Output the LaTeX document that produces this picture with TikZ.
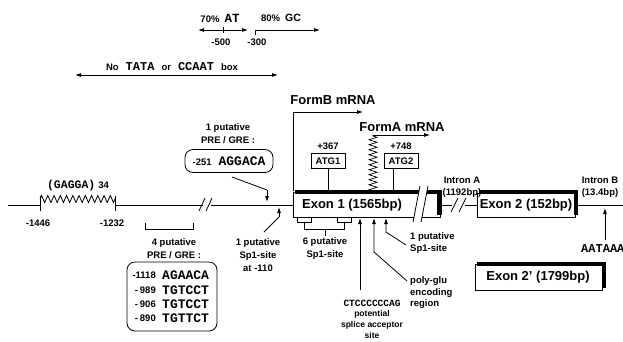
\documentclass[tikz,border=0pt]{standalone}
\usepackage{fontspec}
\setmainfont{Liberation Sans}
\newfontfamily\seqf{Liberation Mono}
\usetikzlibrary{arrows.meta,decorations.pathmorphing}
\newcommand{\seqtxt}[2][13]{{\seqf\bfseries\fontsize{#1}{#1}\selectfont #2}}
\tikzset{
  lab/.style={font=\bfseries\fontsize{9.5}{13}\selectfont, inner sep=0pt, align=center},
  labl/.style={font=\bfseries\fontsize{9.5}{11.5}\selectfont, inner sep=0pt, align=left, anchor=west},
  small/.style={font=\bfseries\fontsize{8.5}{10}\selectfont, inner sep=0pt, align=center},
  big/.style={font=\bfseries\fontsize{13}{14}\selectfont, inner sep=0pt},
  ln/.style={line width=0.8pt},
  arr/.style={ln,-{Latex[length=6pt,width=4pt]}},
  darr/.style={ln,{Latex[length=6pt,width=4pt]}-{Latex[length=6pt,width=4pt]}},
  seqbox/.style={draw, line width=0.8pt, rounded corners=8pt, inner sep=0pt},
  atg/.style={draw, line width=0.8pt, font=\bfseries\fontsize{9.5}{10}\selectfont, minimum width=34pt, minimum height=15pt, inner sep=0pt},
  zzR/.style={ln, decorate, decoration={zigzag, amplitude=3.5pt, segment length=6.25pt}},
  zzA/.style={line width=0.7pt, decorate, decoration={zigzag, amplitude=4pt, segment length=5pt}},
}
\begin{document}
\begin{tikzpicture}[x=1pt,y=-1pt]
\path[use as bounding box] (0,0) rectangle (623,341);

% ---- top region
\node[lab] (at70) at (220,18) {70\%\hspace{5pt}\seqtxt[12.5]{AT}};
\node[lab] (gc80) at (281,18) {80\%\hspace{5pt}{\fontsize{10.5}{11}\selectfont GC}};
\coordinate (atL) at (198,30); \coordinate (atR) at (248,30);
\draw[darr] (atL) -- (atR);
\coordinate (t5a) at (223,27); \coordinate (t5b) at (223,33);
\draw[ln] (t5a) -- (t5b);
\node[lab] (m500) at (221,42) {-500};
\node[lab] (m300) at (257,42) {-300};
\coordinate (gcS) at (255,35); \coordinate (gcC) at (255,30); \coordinate (gcE) at (320,30);
\draw[arr] (gcS) -- (gcC) -- (gcE);

\node[lab] (tata) at (172,67) {No\hspace{7pt}\seqtxt[12]{TATA}\hspace{7pt}or\hspace{7pt}\seqtxt[12]{CCAAT}\hspace{7pt}box};
\coordinate (tL) at (75,75); \coordinate (tR) at (278,75);
\draw[darr] (tL) -- (tR);

% ---- mRNA forms
\node[big] (formB) at (333,100) {FormB mRNA};
\coordinate (fbS) at (293,191); \coordinate (fbC) at (293,112); \coordinate (fbE) at (363,112);
\draw[arr] (fbS) -- (fbC) -- (fbE);
\node[big] (formA) at (402,127) {FormA mRNA};
\coordinate (faS) at (373,191); \coordinate (faC) at (373,135); \coordinate (faE) at (430,135);
\draw[zzA] (faS) -- (faC);
\draw[arr] (faC) -- (faE);

% ---- PRE/GRE -251
\node[lab] (pre1) at (228,134) {1 putative\\PRE / GRE :};
\node[seqbox, lab, minimum width=88pt, minimum height=23pt] (b251) at (229,161) {-251\hspace{7pt}\seqtxt{AGGACA}};
\coordinate (d1) at (232,177); \coordinate (d2) at (267,190); \coordinate (d3) at (267,202);
\draw[ln] (d1) -- (d2);
\draw[arr] (d2) -- (d3);

% ---- ATG
\node[lab] (p367) at (328,146) {+367};
\node[atg] (atg1) at (328,161) {ATG1};
\coordinate (atg1b) at (328,191);
\draw[ln] (atg1) -- (atg1b);
\node[lab] (p748) at (401,146) {+748};
\node[atg] (atg2) at (401,161) {ATG2};
\coordinate (atg2t) at (393,168.5); \coordinate (atg2b) at (393,191);
\draw[ln] (atg2t) -- (atg2b);

% ---- main line left
\coordinate (L0) at (8,205); \coordinate (z1) at (40,205);
\draw[ln] (L0) -- (z1);
\coordinate (k1a) at (40,196); \coordinate (k1b) at (40,211);
\coordinate (k2a) at (115,196); \coordinate (k2b) at (115,211);
\draw[ln] (k1a) -- (k1b); \draw[ln] (k2a) -- (k2b);
\coordinate (zS) at (40,199); \coordinate (zE) at (115,199);
\draw[zzR] (zS) -- (zE);
\coordinate (z2) at (115,205); \coordinate (br1) at (203,205);
\draw[ln] (z2) -- (br1);
\coordinate (sa1) at (199,211); \coordinate (sa2) at (205,198);
\coordinate (sb1) at (206,211); \coordinate (sb2) at (212,198);
\draw[ln] (sa1) -- (sa2); \draw[ln] (sb1) -- (sb2);
\coordinate (br2) at (211,205); \coordinate (ex1L) at (293,205);
\draw[ln] (br2) -- (ex1L);

\node[lab] (gagga) at (78,186) {\seqtxt[11.5]{(GAGGA)}\hspace{3pt}34};
\node[lab] (m1446) at (38,223) {-1446};
\node[lab] (m1232) at (112,223) {-1232};

% bracket for 4 PRE
\coordinate (q1) at (145,223); \coordinate (q2) at (145,229);
\coordinate (q3) at (193,229); \coordinate (q4) at (193,223);
\draw[ln] (q1) -- (q2) -- (q3) -- (q4);
\node[lab] (pre4) at (174,248.5) {4 putative\\PRE / GRE :};
\node[seqbox, minimum width=90pt, minimum height=69pt] (pbox) at (172,296.5) {};
\node[lab, anchor=east] (n1) at (156,275) {-1118};
\node[lab, anchor=east] (n2) at (156,290) {-\hspace{2pt}989};
\node[lab, anchor=east] (n3) at (156,304) {-\hspace{2pt}906};
\node[lab, anchor=east] (n4) at (156,318) {-\hspace{2pt}890};
\node[anchor=west, inner sep=0pt] (s1) at (162,275) {\seqtxt{AGAACA}};
\node[anchor=west, inner sep=0pt] (s2) at (162,290) {\seqtxt{TGTCCT}};
\node[anchor=west, inner sep=0pt] (s3) at (162,304) {\seqtxt{TGTCCT}};
\node[anchor=west, inner sep=0pt] (s4) at (162,318) {\seqtxt{TGTTCT}};

% Sp1 at -110
\coordinate (p1a) at (264,232); \coordinate (p1b) at (279,217); \coordinate (p1c) at (279,207);
\draw[ln] (p1a) -- (p1b);
\draw[arr] (p1b) -- (p1c);
\node[lab] (sp110) at (258,255) {1 putative\\Sp1-site\\at -110};

% ---- Exon 1
\draw[ln] (293,192) rectangle (440,217);
\fill (295,189.5) rectangle (442,194);
\fill (437,189.5) rectangle (442,215);
\fill[white] (420,186) -- (428,186) -- (421,222) -- (413,222) -- cycle;
\coordinate (x1a) at (420,186); \coordinate (x1b) at (413,222);
\coordinate (x2a) at (428,186); \coordinate (x2b) at (421,222);
\draw[ln] (x1a) -- (x1b); \draw[ln] (x2a) -- (x2b);
\node[big] (ex1) at (352,205) {Exon 1 (1565bp)};

% brackets under exon 1
\draw[ln] (297,217) -- (297,222) -- (311,222) -- (311,217);
\draw[ln] (337,217) -- (337,222) -- (351,222) -- (351,217);
\draw[ln] (304,222) -- (304,229) -- (344,229) -- (344,222);
\coordinate (st1) at (325,229); \coordinate (st2) at (325,236);
\draw[ln] (st1) -- (st2);
\node[lab] (sp6) at (325,248.5) {6 putative\\Sp1-site};

% arrows under exon 1
\coordinate (u1a) at (360,290); \coordinate (u1b) at (360,218);
\draw[arr] (u1a) -- (u1b);
\coordinate (u2a) at (407,281); \coordinate (u2b) at (374,252); \coordinate (u2c) at (374,218);
\draw[arr] (u2a) -- (u2b) -- (u2c);
\coordinate (u3a) at (406,245); \coordinate (u3b) at (386,232); \coordinate (u3c) at (386,218);
\draw[arr] (u3a) -- (u3b) -- (u3c);
\node[labl] (sp1r) at (410,243) {1 putative\\Sp1-site};
\node[labl] (pglu) at (410,293) {poly-glu\\encoding\\region};
\node[inner sep=0pt] (ctc) at (372,303) {\seqtxt[9.5]{CTCCCCCCAG}};
\node[small] (pot) at (372,314) {potential};
\node[small] (spl) at (372,325) {splice acceptor};
\node[small] (site) at (372,335.5) {site};

% ---- between exons
\coordinate (m1) at (442,205); \coordinate (m2) at (452,205);
\draw[ln] (m1) -- (m2);
\coordinate (y1a) at (451,212); \coordinate (y1b) at (458,198);
\coordinate (y2a) at (459,212); \coordinate (y2b) at (466,198);
\draw[ln] (y1a) -- (y1b); \draw[ln] (y2a) -- (y2b);
\coordinate (m3) at (465,205); \coordinate (m4) at (477,205);
\draw[ln] (m3) -- (m4);
\node[lab, font=\bfseries\fontsize{9.5}{12}\selectfont] (intA) at (462,187) {Intron A\\(1192bp)};

% ---- Exon 2
\draw[ln] (477,193) rectangle (575,217);
\fill (479,190) rectangle (578,194);
\fill (574,190) rectangle (578,215);
\node[big] (ex2) at (526,205) {Exon 2 (152bp)};
\coordinate (r1) at (578,205); \coordinate (r2) at (623,205);
\draw[ln] (r1) -- (r2);
\node[lab, font=\bfseries\fontsize{9.5}{12}\selectfont] (intB) at (600,187) {Intron B\\(13.4bp)};
\coordinate (ib1) at (605,240); \coordinate (ib2) at (605,208);
\draw[arr] (ib1) -- (ib2);
\node[anchor=west, inner sep=0pt] (aat) at (581,249) {\seqtxt[12]{AATAAA}};

% ---- Exon 2'
\draw[ln] (475,264) rectangle (602,290);
\fill (477,261.5) rectangle (606,265.5);
\fill (602,261.5) rectangle (606,288);
\node[big] (ex2p) at (538,277) {Exon 2' (1799bp)};
\end{tikzpicture}
\end{document}
